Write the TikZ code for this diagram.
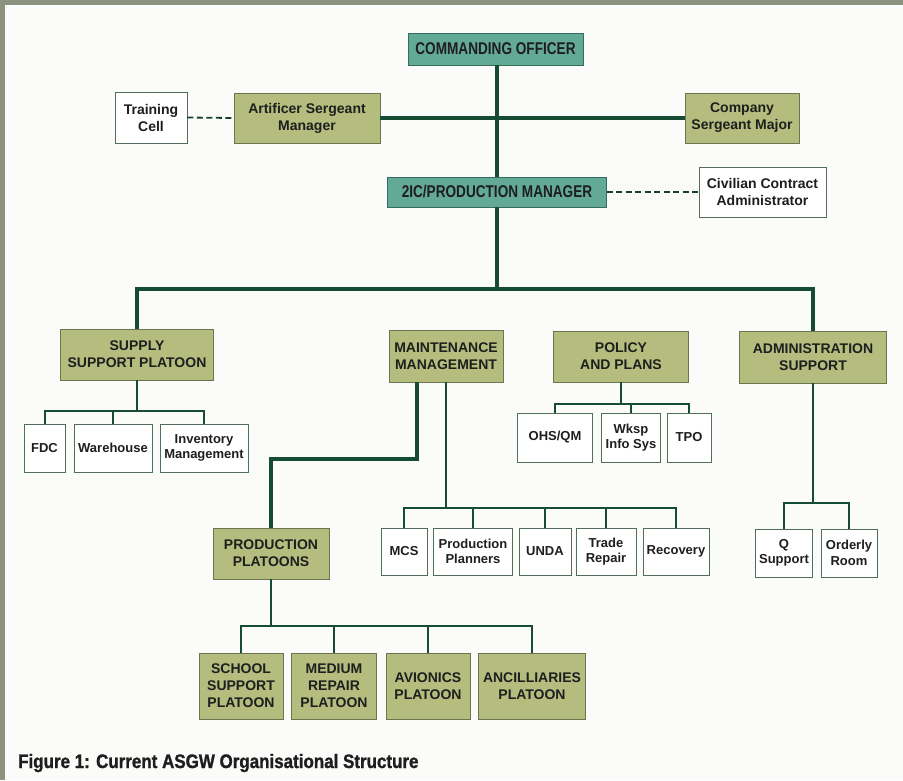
\documentclass[tikz,border=0pt]{standalone}
\usepackage{fontspec}
\setmainfont{Liberation Sans}
\newfontfamily\condfont[FakeStretch=0.8]{Liberation Sans Bold}
\newfontfamily\capfont[FakeStretch=0.87,FakeBold=1.2]{Liberation Sans Bold}
\definecolor{bgc}{RGB}{251,251,249}
\definecolor{framec}{RGB}{140,146,128}
\definecolor{cofill}{RGB}{98,170,150}
\definecolor{coline}{RGB}{50,110,90}
\definecolor{olfill}{RGB}{181,189,126}
\definecolor{olline}{RGB}{105,118,80}
\definecolor{wline}{RGB}{80,110,90}
\definecolor{lnclr}{RGB}{22,76,52}
\definecolor{txtc}{RGB}{30,30,30}
\tikzset{
  box/.style={draw, line width=0.9pt, align=center, inner sep=0pt, text=txtc},
  tealbox/.style={box, fill=cofill, draw=coline, font=\condfont\fontsize{17}{20}\selectfont},
  olbox/.style={box, fill=olfill, draw=olline, font=\bfseries\fontsize{14}{17}\selectfont},
  wtop/.style={box, fill=white, draw=wline, font=\bfseries\fontsize{14}{17}\selectfont},
  wbox/.style={box, fill=white, draw=wline, font=\bfseries\fontsize{13}{15.5}\selectfont},
  thickln/.style={draw=lnclr, line width=3.2pt},
  thinln/.style={draw=lnclr, line width=2pt},
  dashln/.style={draw=lnclr!85!black, line width=1.8pt, dash pattern=on 6pt off 3.5pt}
}
\begin{document}
\begin{tikzpicture}[x=1pt,y=-1pt]
\useasboundingbox (0,0) rectangle (903,780);
\fill[bgc] (0,0) rectangle (903,780);
\fill[framec] (0,0) rectangle (903,5);
\fill[framec] (0,0) rectangle (5,780);

% top level
\node[tealbox, minimum width=175pt, minimum height=32pt] (co) at (495.5,49) {COMMANDING OFFICER};
\node[wtop, minimum width=72pt, minimum height=51pt] (tc) at (151,117.5) {Training\\Cell};
\node[olbox, minimum width=146pt, minimum height=50pt] (asm) at (307,118) {Artificer Sergeant\\Manager};
\node[olbox, minimum width=114pt, minimum height=50pt] (csm) at (742,118) {Company\\Sergeant Major};
\node[tealbox, minimum width=219pt, minimum height=30pt] (pm) at (497,192) {2IC/PRODUCTION MANAGER};
\node[wtop, minimum width=127pt, minimum height=50pt] (cca) at (762.5,192) {Civilian Contract\\Administrator};

% second level
\node[olbox, minimum width=153pt, minimum height=51pt] (ssp) at (137,354.5) {SUPPLY\\SUPPORT PLATOON};
\node[olbox, minimum width=114pt, minimum height=52pt] (mm) at (446,356) {MAINTENANCE\\MANAGEMENT};
\node[olbox, minimum width=135pt, minimum height=51pt] (pol) at (621,356.5) {POLICY\\AND PLANS};
\node[olbox, minimum width=147pt, minimum height=52pt] (adm) at (813,357) {ADMINISTRATION\\SUPPORT};

% supply children
\node[wbox, minimum width=41pt, minimum height=48pt] (fdc) at (44.5,448) {FDC};
\node[wbox, minimum width=78pt, minimum height=48pt] (wh) at (113,448) {Warehouse};
\node[wbox, minimum width=88pt, minimum height=48pt] (inv) at (204,448) {Inventory\\Management};

% policy children
\node[wbox, minimum width=75pt, minimum height=49pt] (ohs) at (555,437.5) {OHS/QM};
\node[wbox, minimum width=59pt, minimum height=49pt] (wksp) at (631,437.5) {Wksp\\Info Sys};
\node[wbox, minimum width=44pt, minimum height=49pt] (tpo) at (689,437.5) {TPO};

% maintenance children
\node[wbox, minimum width=46pt, minimum height=47pt] (mcs) at (404,551.5) {MCS};
\node[wbox, minimum width=79pt, minimum height=47pt] (ppl) at (473,551.5) {Production\\Planners};
\node[wbox, minimum width=52pt, minimum height=47pt] (unda) at (545,551.5) {UNDA};
\node[wbox, minimum width=60pt, minimum height=47pt] (tr) at (606,551.5) {Trade\\Repair};
\node[wbox, minimum width=66pt, minimum height=47pt] (rec) at (676,551.5) {Recovery};

% admin children
\node[wbox, minimum width=57pt, minimum height=48pt] (qs) at (784,553) {Q\\Support};
\node[wbox, minimum width=56pt, minimum height=48pt] (orr) at (849,553) {Orderly\\Room};

% production platoons
\node[olbox, minimum width=116pt, minimum height=51pt] (pp) at (271,553.5) {PRODUCTION\\PLATOONS};
\node[olbox, minimum width=84pt, minimum height=66pt] (ssch) at (241,686) {SCHOOL\\SUPPORT\\PLATOON};
\node[olbox, minimum width=85pt, minimum height=66pt] (mrp) at (334,686) {MEDIUM\\REPAIR\\PLATOON};
\node[olbox, minimum width=84pt, minimum height=66pt] (avi) at (428,686) {AVIONICS\\PLATOON};
\node[olbox, minimum width=107pt, minimum height=66pt] (anc) at (532,686) {ANCILLIARIES\\PLATOON};

% caption
\node[anchor=west, inner sep=0pt, text=txtc, font=\capfont\fontsize{19.5}{22}\selectfont] (cap) at (18,763) {Figure 1: Current ASGW Organisational Structure};

% coordinates for buses
\coordinate (b1) at (497,289);
\coordinate (sb) at (137,411);
\coordinate (mk) at (417,459);
\coordinate (mb) at (446,508);
\coordinate (pb) at (621,404);
\coordinate (ab) at (813,503);
\coordinate (ppb) at (271,626);

% connectors (top)
\draw[thickln] (pm.north |- co.south) -- (pm.north);
\draw[thickln] (asm.east) -- (csm.west);
\draw[dashln] (tc.east) -- (asm.west);
\draw[dashln] (pm.east) -- (cca.west);
\draw[thickln] (pm.south) -- (b1);
\draw[thickln] (ssp.north) |- (b1) -| (adm.north);

% supply
\draw[thinln] (ssp.south) -- (sb);
\draw[thinln] (fdc.north) |- (sb) -| (inv.north);
\draw[thinln] (wh.north) -- (wh.north |- sb);

% maintenance
\draw[thickln] (mm.south -| mk) -- (mk) -| (pp.north);
\draw[thinln] (mm.south) -- (mb);
\draw[thinln] (mcs.north) |- (mb) -| (rec.north);
\draw[thinln] (ppl.north) -- (ppl.north |- mb);
\draw[thinln] (unda.north) -- (unda.north |- mb);
\draw[thinln] (tr.north) -- (tr.north |- mb);

% policy
\draw[thinln] (pol.south) -- (pb);
\draw[thinln] (ohs.north) |- (pb) -| (tpo.north);
\draw[thinln] (wksp.north) -- (wksp.north |- pb);

% admin
\draw[thinln] (adm.south) -- (ab);
\draw[thinln] (qs.north) |- (ab) -| (orr.north);

% production platoons
\draw[thinln] (pp.south) -- (ppb);
\draw[thinln] (ssch.north) |- (ppb) -| (anc.north);
\draw[thinln] (mrp.north) -- (mrp.north |- ppb);
\draw[thinln] (avi.north) -- (avi.north |- ppb);
\end{tikzpicture}
\end{document}
